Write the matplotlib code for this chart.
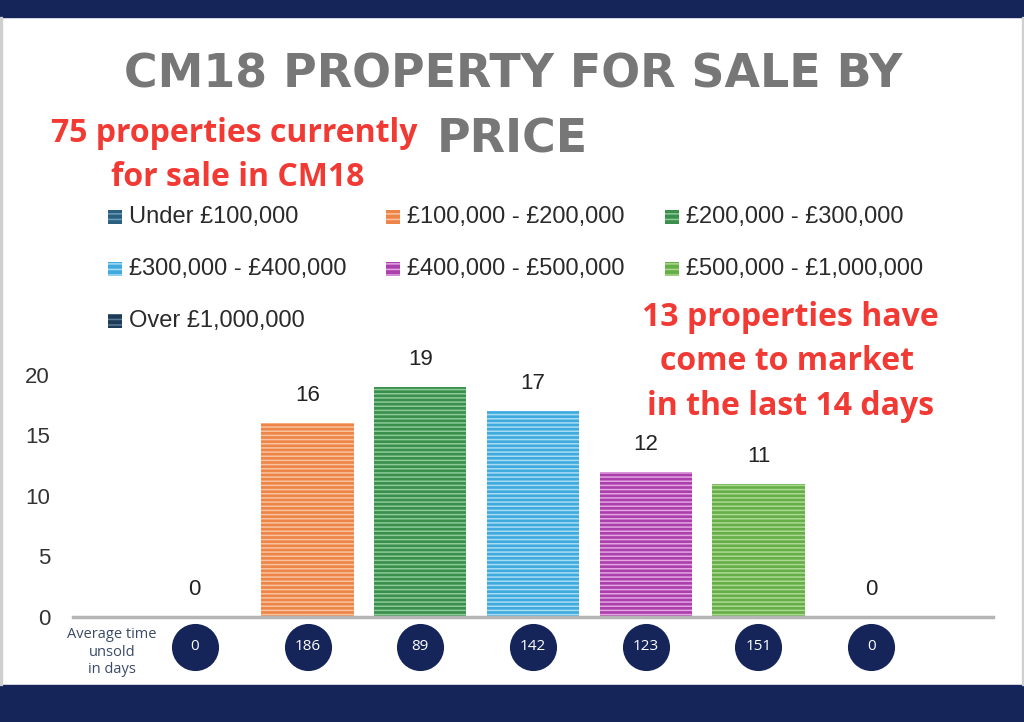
import matplotlib
matplotlib.use("Agg")
import matplotlib.pyplot as plt
from matplotlib.patches import Rectangle
from matplotlib.transforms import blended_transform_factory

# ---- data ----
categories = ["Under £100,000", "£100,000 - £200,000", "£200,000 - £300,000",
              "£300,000 - £400,000", "£400,000 - £500,000", "£500,000 - £1,000,000",
              "Over £1,000,000"]
counts = [0, 16, 19, 17, 12, 11, 0]
avg_days = [0, 186, 89, 142, 123, 151, 0]
yticks = [0, 5, 10, 15, 20]
title_lines = ["CM18 PROPERTY FOR SALE BY", "PRICE"]
note_left = ["75 properties currently", "for sale in CM18"]
note_right = ["13 properties have", "come to market", "in the last 14 days"]
days_label = "Average time\nunsold\nin days"

# ---- styles ----
fill_colors = ["#2b5f80", "#ee8548", "#3a8f4c", "#3faade", "#ab3fab", "#66ae48", "#1d3b57"]
stripe_colors = ["#6d9cb8", "#f9c3a0", "#8ccb98", "#a8dcf3", "#e3a6e3", "#acd992", "#5b7a96"]
NAVY = "#15255a"
RED = "#f23a34"

W, H = 1024, 722
fig = plt.figure(figsize=(W / 100, H / 100), dpi=100)
fig.patch.set_facecolor("white")
plt.rcParams["hatch.linewidth"] = 1.1

# navy bands
fig.patches.append(Rectangle((0, 1 - 17 / H), 1, 17 / H, transform=fig.transFigure,
                             color=NAVY, zorder=0))
fig.patches.append(Rectangle((0, 0), 1, 37 / H, transform=fig.transFigure,
                             color=NAVY, zorder=0))
# faint side borders
fig.patches.append(Rectangle((0, 37 / H), 2 / W, 1 - 54 / H, transform=fig.transFigure,
                             color="#cfcfcf", zorder=0))
fig.patches.append(Rectangle((1 - 2 / W, 37 / H), 2 / W, 1 - 54 / H, transform=fig.transFigure,
                             color="#cfcfcf", zorder=0))

# ---- axes ----
ax_left, ax_right = 73, 993
ax_bottom, ax_top = 617, 375
ax = fig.add_axes([ax_left / W, 1 - ax_bottom / H, (ax_right - ax_left) / W,
                   (ax_bottom - ax_top) / H])
ax.set_facecolor("none")
x = list(range(len(categories)))
bars = ax.bar(x, counts, width=0.82, color=fill_colors, edgecolor=stripe_colors,
              linewidth=0, hatch="----", zorder=2)
for xi, v in zip(x, counts):
    ax.annotate(str(v), (xi, v), xytext=(0, 20), textcoords="offset points",
                ha="center", va="center", fontsize=16, color="#222222",
                fontfamily="Liberation Sans")
ax.set_xlim(-1.08, 7.08)
ax.set_ylim(0, 20)
ax.set_yticks(yticks)
ax.set_yticklabels([str(t) for t in yticks], fontsize=16, color="#333333",
                   fontfamily="Liberation Sans")
ax.tick_params(axis="y", length=0, pad=16.5)
ax.set_xticks([])
for s in ["top", "right", "left"]:
    ax.spines[s].set_visible(False)
ax.spines["bottom"].set_color("#b5b5b5")
ax.spines["bottom"].set_linewidth(2.5)

# average days circles
tr = blended_transform_factory(ax.transData, fig.transFigure)
cy = 1 - 647 / H
ax.scatter(x, [cy] * len(x), s=1150, color=NAVY, transform=tr, clip_on=False, zorder=3,
           linewidths=0)
for xi, d in zip(x, avg_days):
    ax.text(xi, cy, str(d), transform=tr, ha="center", va="center", color="white",
            fontsize=11, fontfamily="Open Sans", zorder=4)
fig.text(112 / W, 1 - 652 / H, days_label, ha="center", va="center", fontsize=10.5,
         color="#3c4a66", fontfamily="Open Sans", linespacing=1.25)

# ---- title ----
fig.text(513 / W, 1 - 75 / H, title_lines[0], ha="center", va="center", fontsize=33,
         fontweight="bold", color="#777777", fontfamily="DejaVu Sans")
fig.text(512 / W, 1 - 140 / H, title_lines[1], ha="center", va="center", fontsize=33,
         fontweight="bold", color="#777777", fontfamily="DejaVu Sans")

# ---- red notes ----
for i, t in enumerate(note_left):
    fig.text([234, 238][i] / W, 1 - [133, 177][i] / H, t, ha="center", va="center",
             fontsize=23, fontweight="bold", color=RED, fontfamily="Open Sans")
for i, t in enumerate(note_right):
    fig.text([790, 787, 791][i] / W, 1 - [318, 362, 407][i] / H, t, ha="center",
             va="center", fontsize=23, fontweight="bold", color=RED, fontfamily="Open Sans")

# ---- legend (row-major, 3 columns) ----
col_x = [108, 386, 665]
row_y = [217, 269, 321]
sq = 14
for i, (lab, c, sc) in enumerate(zip(categories, fill_colors, stripe_colors)):
    r, cidx = divmod(i, 3)
    lx, ly = col_x[cidx], row_y[r]
    fig.patches.append(Rectangle((lx / W, 1 - (ly + sq / 2) / H), sq / W, sq / H,
                                 transform=fig.transFigure, facecolor=c, edgecolor=sc,
                                 linewidth=0, hatch="---"))
    fig.text((lx + sq + 7) / W, 1 - ly / H, lab, ha="left", va="center", fontsize=17,
             color="#2a2a2a", fontfamily="Liberation Sans")

fig.savefig("out.png", dpi=100)
